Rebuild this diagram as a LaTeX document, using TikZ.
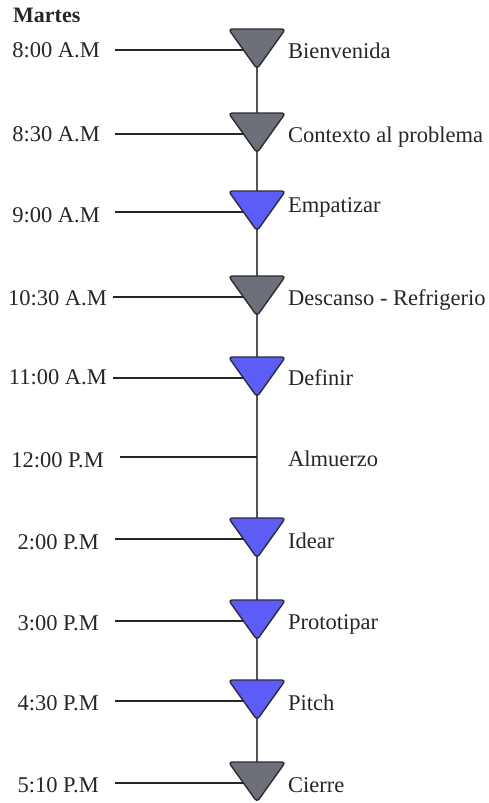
\documentclass[tikz,border=0pt]{standalone}
\usepackage{fontspec}
\setmainfont{Liberation Serif}
\definecolor{tblue}{HTML}{5C5CF6}
\definecolor{tgray}{HTML}{6D6F79}
\definecolor{tedge}{HTML}{2B2B38}
\definecolor{vline}{HTML}{555555}
\tikzset{
  lbl/.style={inner sep=0pt, font=\fontsize{22.5}{24}\selectfont, text=black!85},
  hline/.style={line width=1.5pt, black!85},
  vconn/.style={line width=1.2pt, vline},
  trishape/.style={line width=1.4pt, draw=tedge, rounded corners=3.5pt, line join=round},
}
\newcommand{\mytri}[3]{%
  \coordinate (#1) at (257,#2);
  \filldraw[trishape, fill=#3] (228.5,{#2-21}) -- (285.5,{#2-21}) -- (257,{#2+19}) -- cycle;}
\begin{document}
\begin{tikzpicture}[x=1pt,y=-1pt]
\useasboundingbox (0,0) rectangle (488,803);
\node[lbl, anchor=base west, font=\fontsize{22}{24}\selectfont\bfseries] (title) at (13,23) {Martes};
% start coordinates of horizontal lines
\coordinate (s1) at (115,50);
\coordinate (s2) at (115,134);
\coordinate (s3) at (115,212);
\coordinate (s4) at (113,297);
\coordinate (s5) at (113,378);
\coordinate (s6) at (120,457);
\coordinate (s7) at (115,539);
\coordinate (s8) at (115,621);
\coordinate (s9) at (115,701);
\coordinate (s10) at (115,783);
\coordinate (a6) at (257,457);
\coordinate (t1c) at (257,50);
\coordinate (t10c) at (257,783);
% vertical connector
\draw[vconn] (t1c) -- (t10c);
% horizontal lines
\draw[hline] (s1) -- (t1c);
\draw[hline] (s2) -- (257,134);
\draw[hline] (s3) -- (257,212);
\draw[hline] (s4) -- (257,297);
\draw[hline] (s5) -- (257,378);
\draw[hline] (s6) -- (a6);
\draw[hline] (s7) -- (257,539);
\draw[hline] (s8) -- (257,621);
\draw[hline] (s9) -- (257,701);
\draw[hline] (s10) -- (t10c);
% triangles
\mytri{t1}{50}{tgray}
\mytri{t2}{134}{tgray}
\mytri{t3}{212}{tblue}
\mytri{t4}{297}{tgray}
\mytri{t5}{378}{tblue}
\mytri{t7}{539}{tblue}
\mytri{t8}{621}{tblue}
\mytri{t9}{701}{tblue}
\mytri{t10}{783}{tgray}
% left labels
\node[lbl, anchor=base east] (l1) at (100,57) {8:00 A.M};
\node[lbl, anchor=base east] (l2) at (100,141) {8:30 A.M};
\node[lbl, anchor=base east] (l3) at (100,222) {9:00 A.M};
\node[lbl, anchor=base east] (l4) at (107,305) {10:30 A.M};
\node[lbl, anchor=base east] (l5) at (107,384) {11:00 A.M};
\node[lbl, anchor=base east] (l6) at (104,467) {12:00 P.M};
\node[lbl, anchor=base east] (l7) at (99,549) {2:00 P.M};
\node[lbl, anchor=base east] (l8) at (99,630) {3:00 P.M};
\node[lbl, anchor=base east] (l9) at (99,710) {4:30 P.M};
\node[lbl, anchor=base east] (l10) at (99,792) {5:10 P.M};
% right labels
\node[lbl, anchor=base west] (r1) at (288,58) {Bienvenida};
\node[lbl, anchor=base west] (r2) at (288,142.5) {Contexto al problema};
\node[lbl, anchor=base west] (r3) at (288,212) {Empatizar};
\node[lbl, anchor=base west] (r4) at (288,305) {Descanso - Refrigerio};
\node[lbl, anchor=base west] (r5) at (288,385) {Definir};
\node[lbl, anchor=base west] (r6) at (288,466) {Almuerzo};
\node[lbl, anchor=base west] (r7) at (288,548) {Idear};
\node[lbl, anchor=base west] (r8) at (288,629) {Prototipar};
\node[lbl, anchor=base west] (r9) at (288,710) {Pitch};
\node[lbl, anchor=base west] (r10) at (288,792) {Cierre};
\end{tikzpicture}
\end{document}
